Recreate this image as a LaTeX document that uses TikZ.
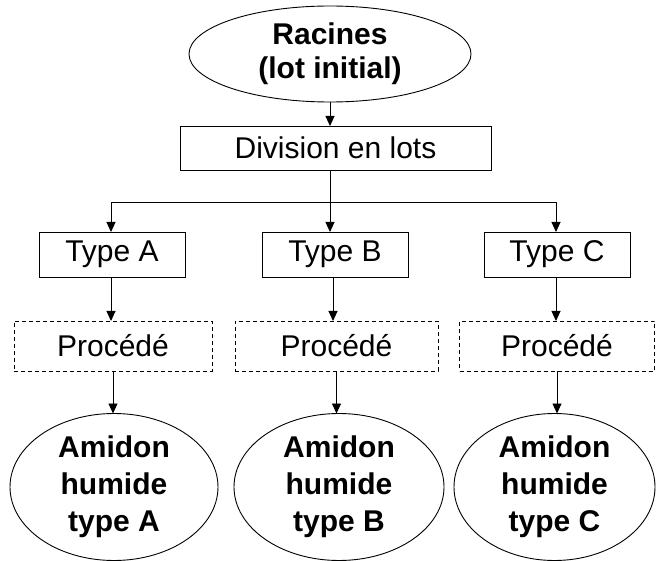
\documentclass[tikz,border=0pt]{standalone}
\usepackage{fontspec}
\setmainfont{Liberation Sans}
\usetikzlibrary{shapes.geometric,arrows.meta}
\begin{document}
\begin{tikzpicture}[x=1pt,y=-1pt,
  every node/.style={inner sep=0pt,outer sep=0pt,align=center,font=\fontsize{30}{36}\selectfont},
  bx/.style={draw,line width=0.9pt,rectangle,minimum height=45pt},
  dbx/.style={draw,line width=0.9pt,rectangle,dash pattern=on 4pt off 3pt,minimum height=50pt},
  ell/.style={draw,line width=0.9pt,ellipse,font=\fontsize{30}{37}\selectfont\bfseries},
  arr/.style={line width=0.9pt,-{Triangle[length=10pt,width=9pt]}}]
\useasboundingbox (0,0) rectangle (656,561);
\node[ell,minimum width=282pt,minimum height=96pt,font=\fontsize{30}{34}\selectfont\bfseries] (root) at (330,54) {Racines\\(lot initial)};
\node[bx,minimum width=311pt,minimum height=44pt] (div) at (335.5,148) {Division en lots};
\node[bx,minimum width=146pt] (ta) at (112,254.5) {Type A};
\node[bx,minimum width=146pt] (tb) at (335,254.5) {Type B};
\node[bx,minimum width=146pt] (tc) at (557,254.5) {Type C};
\node[dbx,minimum width=198pt] (pa) at (113,346) {Procédé};
\node[dbx,minimum width=203pt] (pb) at (336.5,346) {Procédé};
\node[dbx,minimum width=195pt] (pc) at (557,346) {Procédé};
\node[ell,minimum width=208pt,minimum height=147pt] (aa) at (114,487) {Amidon\\humide\\type A};
\node[ell,minimum width=210pt,minimum height=147pt] (ab) at (339,487) {Amidon\\humide\\type B};
\node[ell,minimum width=201pt,minimum height=147pt] (ac) at (554.5,487) {Amidon\\humide\\type C};
\coordinate (br) at (330,202);
\draw[arr] (root.south) -- (root.south |- div.north);
\draw[line width=0.9pt] (div.south -| br) -- (br);
\draw[arr] (br) -| ([xshift=-1pt]ta.north);
\draw[arr] (br) -| ([xshift=-1pt]tc.north);
\draw[arr] (br) -- (br |- tb.north);
\draw[arr] ([xshift=-1pt]ta.south) -- ([xshift=-1pt]ta.south |- pa.north);
\draw[arr] ([xshift=-2pt]tb.south) -- ([xshift=-2pt]tb.south |- pb.north);
\draw[arr] ([xshift=-1pt]tc.south) -- ([xshift=-1pt]tc.south |- pc.north);
\draw[arr] (pa.south) -- (pa.south |- aa.north);
\draw[arr] (pb.south) -- (pb.south |- ab.north);
\draw[arr] (pc.south -| tc.south) -- (tc.south |- ac.north);
\end{tikzpicture}
\end{document}
